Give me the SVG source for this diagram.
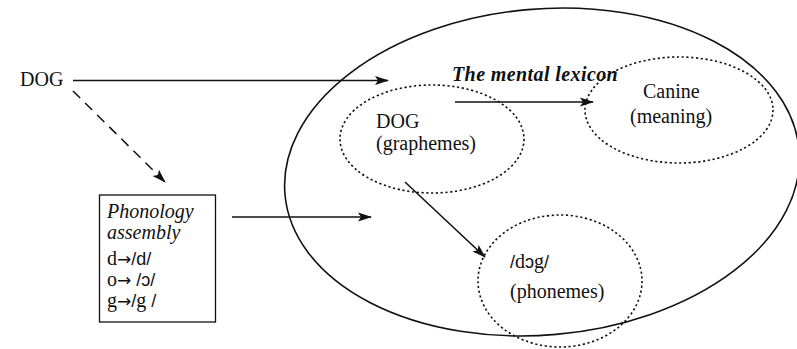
<svg xmlns="http://www.w3.org/2000/svg" width="797" height="349" viewBox="0 0 797 349">
<style>
text{font-family:'Liberation Serif','DejaVu Serif',serif;font-size:20px;fill:#111}
.s{font-family:'Liberation Sans','DejaVu Sans',sans-serif;font-size:18px}
.ar{font-family:'DejaVu Sans',sans-serif;font-size:17px}
.dot{fill:none;stroke:#111;stroke-width:1.6;stroke-dasharray:2.2 2.6}
.ln{stroke:#111;stroke-width:1.5;fill:none}
</style>
<defs>
<marker id="ah" markerWidth="14" markerHeight="10" refX="13" refY="5" orient="auto" markerUnits="userSpaceOnUse">
<path d="M0,0.5 L14,5 L0,9.5 L3,5 Z" fill="#111"/>
</marker>
</defs>
<rect width="797" height="349" fill="#fff"/>
<g id="lexicon">
<ellipse cx="542" cy="172" rx="258" ry="163" transform="rotate(-5 542 172)" fill="none" stroke="#111" stroke-width="1.6"/>
<text x="452" y="81" font-weight="bold" font-style="italic" font-size="22" letter-spacing="0.4">The mental lexicon</text>
</g>
<g id="dog-input">
<text x="20" y="86">DOG</text>
</g>
<g id="phonology">
<rect x="99.5" y="195" width="116" height="127" fill="none" stroke="#111" stroke-width="1.3"/>
<text x="107" y="218" font-style="italic">Phonology</text>
<text x="107" y="239" font-style="italic">assembly</text>
<text x="107" y="265">d<tspan class="ar">→</tspan><tspan class="s">/d/</tspan></text>
<text x="107" y="286">o<tspan class="ar">→</tspan> <tspan class="s">/ɔ/</tspan></text>
<text x="107" y="307">g<tspan class="ar">→</tspan><tspan class="s">/</tspan>g <tspan class="s">/</tspan></text>
</g>
<g id="graphemes">
<ellipse class="dot" cx="432" cy="139" rx="92" ry="54"/>
<text x="376" y="128">DOG</text>
<text x="376" y="150">(graphemes)</text>
</g>
<g id="meaning">
<ellipse class="dot" cx="679" cy="110" rx="94" ry="53"/>
<text x="643" y="98">Canine</text>
<text x="630" y="123">(meaning)</text>
</g>
<g id="phonemes">
<ellipse class="dot" cx="560" cy="281" rx="82" ry="66"/>
<text x="510" y="268"><tspan class="s">/</tspan>d<tspan class="s">ɔ</tspan>g<tspan class="s">/</tspan></text>
<text x="510" y="298">(phonemes)</text>
</g>
<g id="connectors">
<line class="ln" x1="73" y1="80.5" x2="388" y2="80.5" marker-end="url(#ah)"/>
<line class="ln" x1="73" y1="91" x2="165" y2="182" stroke-dasharray="10 7" marker-end="url(#ah)"/>
<line class="ln" x1="232" y1="217" x2="371" y2="217" marker-end="url(#ah)"/>
<line class="ln" x1="455" y1="102" x2="593" y2="102" marker-end="url(#ah)"/>
<line class="ln" x1="405" y1="182" x2="485" y2="257" marker-end="url(#ah)"/>
</g>
</svg>
